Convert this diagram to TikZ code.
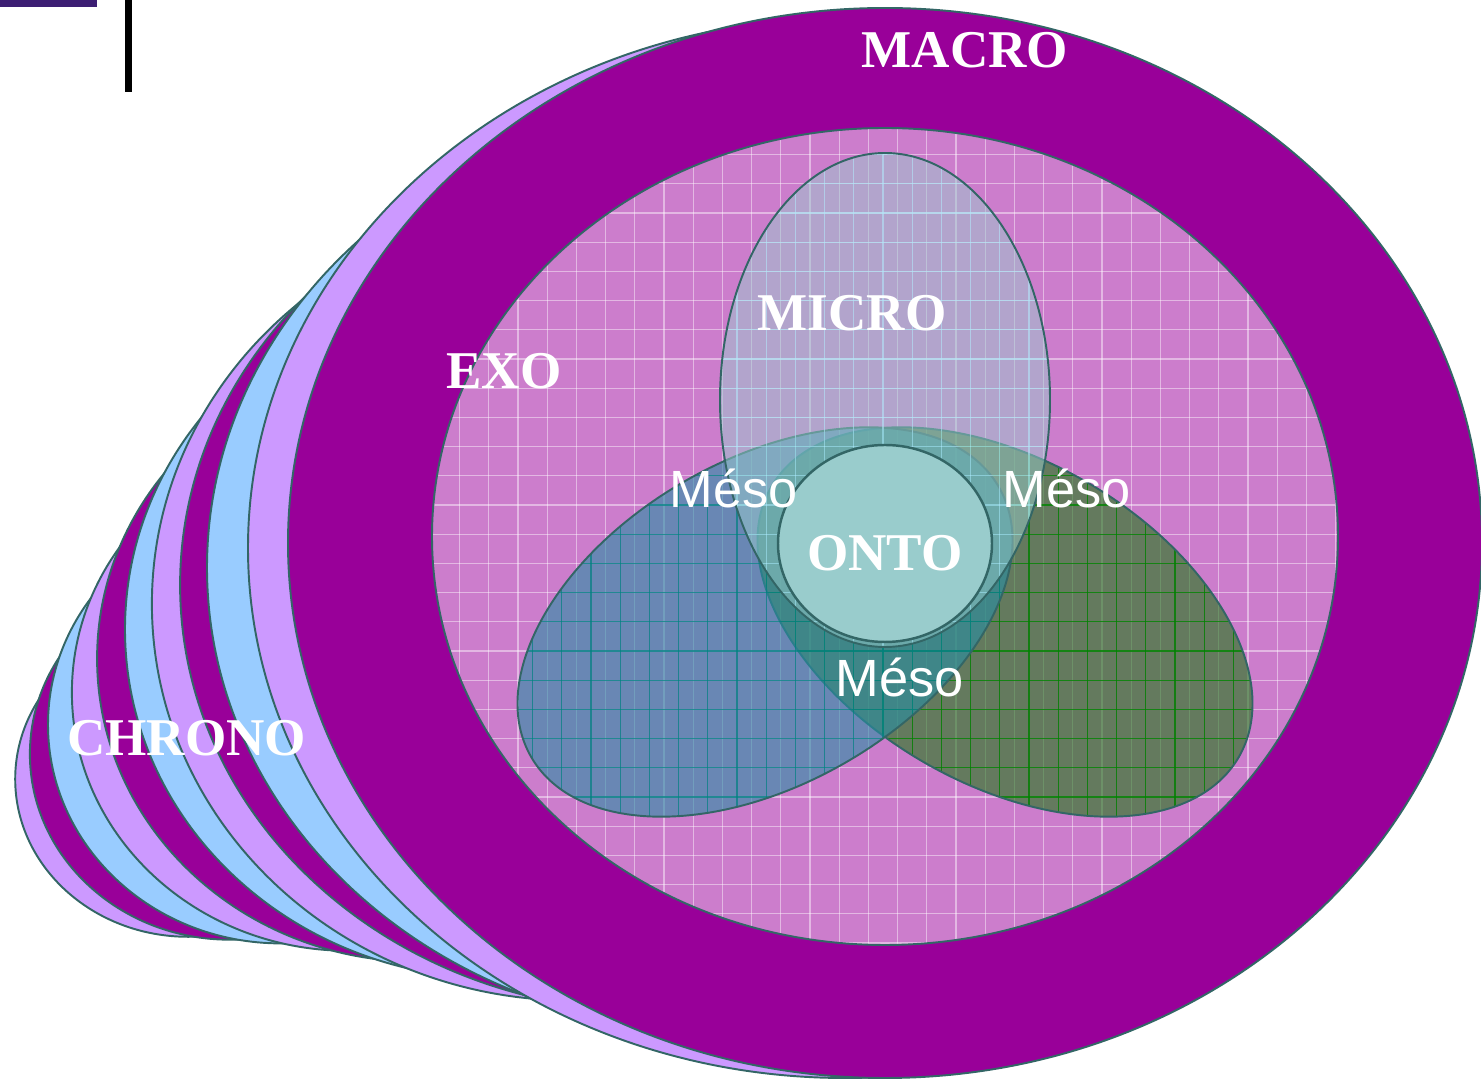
\documentclass[tikz,border=0pt]{standalone}
\usepackage{fontspec}
\setmainfont{Liberation Serif}
\newfontfamily\mesofont{Liberation Sans}
\usepackage{tikz}

\definecolor{macropurple}{RGB}{153,0,153}
\definecolor{lilac}{RGB}{204,153,255}
\definecolor{skyblue}{RGB}{153,204,255}
\definecolor{edgeteal}{RGB}{51,102,102}
\definecolor{exopink}{RGB}{204,125,204}
\definecolor{microtint}{RGB}{153,204,204}
\definecolor{mesoblue}{RGB}{39,142,164}
\definecolor{mesogreen}{RGB}{31,120,22}
\definecolor{ontoteal}{RGB}{153,204,204}
\definecolor{tabindigo}{RGB}{60,30,115}

\tikzset{
  ring/.style={draw=edgeteal, line width=0.55pt},
  bigword/.style={text=white, font=\bfseries\fontsize{15.1}{18}\selectfont, anchor=base, inner sep=0pt},
  mesoword/.style={text=white, font=\mesofont\fontsize{14.9}{18}\selectfont, anchor=base, inner sep=0pt},
  exogrid/.style={draw=white, opacity=0.45, line width=0.3pt},
  bluegrid/.style={draw=teal, opacity=0.7, line width=0.3pt},
  greengrid/.style={draw=green!50!black, opacity=0.8, line width=0.3pt},
  microgrid/.style={draw=cyan!30, opacity=0.6, line width=0.3pt}
}

% grid lines over the inner disc, #1 = style, #2 = shift
\newcommand{\venngrid}[2]{%
  \foreach \n in {0,...,32}{\draw[#1] ({#2+430.4+29.2*\n},120) -- ({#2+430.4+29.2*\n},950);}
  \foreach \n in {0,...,28}{\draw[#1] (420,{125.4+29.2*\n}) -- (1350,{125.4+29.2*\n});}
}

\begin{document}
\begin{tikzpicture}[x=0.01cm, y=-0.01cm]
\useasboundingbox (0,0) rectangle (1481,1080);
\clip (0,0) rectangle (1481,1080);

% chrono stack, back to front
\draw[ring, fill=lilac] (188.3,779.1) ellipse [x radius=173.1, y radius=157.7];
\draw[ring, fill=macropurple] (229.9,754.1) ellipse [x radius=200, y radius=185.6];
\draw[ring, fill=skyblue] (280.8,724.7) ellipse [x radius=232.8, y radius=218.7];
\draw[ring, fill=lilac] (348.3,692.4) ellipse [x radius=276.4, y radius=258.4];
\draw[ring, fill=macropurple] (419.5,658.6) ellipse [x radius=322.4, y radius=303.2];
\draw[ring, fill=skyblue] (498.1,629.3) ellipse [x radius=373.1, y radius=349.3];
\draw[ring, fill=lilac] (574,603.9) ellipse [x radius=422.1, y radius=396.7];
\draw[ring, fill=macropurple] (653.5,585.1) ellipse [x radius=473.4, y radius=426];
\draw[ring, fill=skyblue] (729.4,567.7) ellipse [x radius=522.4, y radius=464.5];
\draw[ring, fill=lilac] (845,548) ellipse [x radius=597, y radius=530];
\draw[ring, fill=macropurple] (885,543) ellipse [x radius=597, y radius=535];

% exo
\fill[exopink] (885,536.5) ellipse [x radius=453, y radius=408.5];
\begin{scope}
  \clip (885,536.5) ellipse [x radius=453, y radius=408.5];
  \venngrid{exogrid}{0}
\end{scope}
\draw[ring] (885,536.5) ellipse [x radius=453, y radius=408.5];

% meso right
\fill[mesogreen, fill opacity=0.6, rotate around={-30:(1005,622)}] (1005,622) ellipse [x radius=270, y radius=162];
\begin{scope}
  \clip[rotate around={-30:(1005,622)}] (1005,622) ellipse [x radius=270, y radius=162];
  \venngrid{greengrid}{-14.6}
\end{scope}
\draw[ring, rotate around={-30:(1005,622)}] (1005,622) ellipse [x radius=270, y radius=162];

% meso left
\fill[mesoblue, fill opacity=0.6, rotate around={30:(765,622)}] (765,622) ellipse [x radius=270, y radius=162];
\begin{scope}
  \clip[rotate around={30:(765,622)}] (765,622) ellipse [x radius=270, y radius=162];
  \venngrid{bluegrid}{-14.6}
\end{scope}
\draw[ring, rotate around={30:(765,622)}] (765,622) ellipse [x radius=270, y radius=162];

% micro
\fill[microtint, fill opacity=0.5] (885,400) ellipse [x radius=165, y radius=247];
\begin{scope}
  \clip (885,400) ellipse [x radius=165, y radius=247];
  \venngrid{microgrid}{-14.6}
\end{scope}
\draw[ring] (885,400) ellipse [x radius=165, y radius=247];

% onto
\draw[ring, line width=0.7pt, fill=ontoteal] (885,543.5) ellipse [x radius=107, y radius=98.5];

% labels
\node[bigword] (macro) at (965,68) {MACRO};
\node[bigword] (micro) at (852,331) {MICRO};
\node[bigword] (exo) at (504,389) {EXO};
\node[bigword] (onto) at (885,571) {ONTO};
\node[bigword] (chrono) at (186.5,756) {CHRONO};
\node[mesoword] (mesoL) at (734,508) {Méso};
\node[mesoword] (mesoR) at (1067,508) {Méso};
\node[mesoword] (mesoB) at (900,697) {Méso};

% corner marks
\fill[tabindigo] (0,0) rectangle (97,7);
\fill[black] (125,0) rectangle (132,92);
\end{tikzpicture}
\end{document}
